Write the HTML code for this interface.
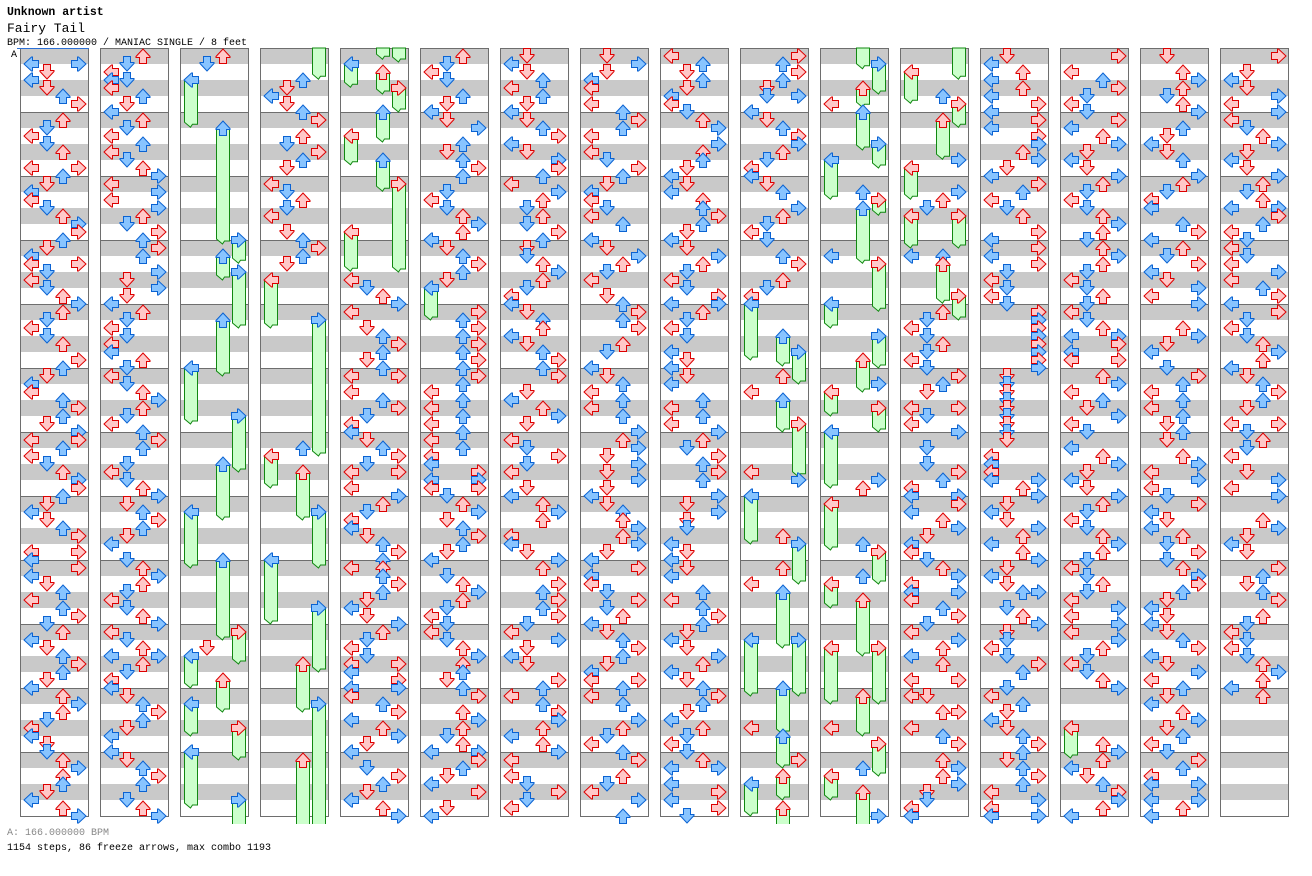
<!DOCTYPE html>
<html><head><meta charset="utf-8">
<style>
html,body{margin:0;padding:0;background:#fff;width:1312px;height:876px;overflow:hidden}
svg{display:block}
text{font-family:"Liberation Mono","DejaVu Sans Mono",monospace}
</style></head><body>
<svg id="s" width="1312" height="876" viewBox="0 0 1312 876" xmlns="http://www.w3.org/2000/svg">
<rect x="0" y="0" width="1312" height="876" fill="#fff"/>
<g id="g"></g>
<text x="7" y="15" font-size="11.5" font-weight="bold" fill="#000">Unknown artist</text>
<text x="7" y="32" font-size="13" fill="#000">Fairy Tail</text>
<text x="7" y="45" font-size="10" fill="#000">BPM: 166.000000 / MANIAC SINGLE / 8 feet</text>
<text x="11" y="57" font-size="10" fill="#000">A</text>
<text x="7" y="835" font-size="10" fill="#888">A: 166.000000 BPM</text>
<text x="7" y="850" font-size="10" fill="#000">1154 steps, 86 freeze arrows, max combo 1193</text>
</svg>
<script>
var N=[
"L2 R2 D3 L4 D5 U6 R7 U9 D10 L11 D12 U13 L15 R15 U16 D17 L18 L19 D20 U21 R22 R23 U24 D25 L26 L27 R27 D28 L29 D30 U31 R32 U33 D34 L35 D36 U37 R39 U40 D41 L42 L43 U44 R45 U46 D47 R48 L49 R49 U50 L51 D52 U53 R54 R55 U56 D57 L58 D59 U60 R61 L63 R63 L64 R65 L66 D67 U68 L69 U70 R71 D72 U73 L74 D75 U76 R77 U78 D79 L80 U81 R82 U83 D84 L85 L86 D87 D88 U89 R90 U91 U92 D93 L94 U95 R96",
"U1 D2 L3 L4 D4 L5 U6 D7 L8 U9 D10 L11 U12 L13 D14 U15 R16 L17 R18 L19 R20 U21 D22 R23 U24 R25 U26 R28 D29 R30 D31 L32 U33 D34 L35 D36 L37 L38 U39 D40 L41 D42 U43 R44 U45 D46 L47 U48 R49 U50 D52 L53 D54 U55 R56 D57 U58 R59 U60 D61 L62 D64 U65 R66 U67 D68 L69 D70 U71 R72 L73 D74 U75 L76 R76 U77 D78 L79 L80 D81 U82 R83 U84 D85 L86 L88 D89 U90 R91 U92 D94 U95 R96",
"U1 D2 D75",
"U4 D5 L6 D7 U8 R9 U11 D12 R13 U14 D15 L17 D18 U19 D20 L21 D23 U24 R25 U26 D27 U50",
"L29 D30 U31 R32 L33 D35 U36 R37 U38 D39 U40 L41 R41 L43 U44 R45 D46 L47 L48 D49 U50 R51 D52 L53 R53 L55 R56 U57 D58 L59 L60 D61 U62 R63 U64 L65 U65 U66 R67 U68 D69 L70 D71 R72 U73 D74 L75 D76 L77 R77 L78 R79 L80 R80 L81 U82 R83 L84 U85 R86 D87 L88 D90 R91 U92 D93 L94 U95 R96",
"U1 D2 L3 D4 U6 D7 L8 D9 R10 U12 D13 U14 R15 U16 D18 L19 D20 U21 R22 U23 L24 D25 U26 R27 U28 D29 R33 U34 R35 U36 R37 U38 R39 U40 R41 U42 L43 U44 L45 U46 L47 U48 L49 U50 L51 L52 R53 L54 R54 L55 R55 D56 U57 R58 D59 U60 R61 U62 D63 L64 D66 U67 R68 U69 D70 L71 D72 L73 D74 U75 R76 U77 U78 D79 U80 R81 U83 R84 U85 D86 U87 L88 R88 R89 U90 D91 L92 R93 D95 L96",
"D1 L2 D3 U4 L5 U6 D7 L8 D9 U10 R11 L12 D13 R14 R15 U16 L17 R18 U19 D20 U21 D22 R23 U24 D25 D26 U27 R28 U29 D30 L31 L32 D33 U34 U35 L36 D37 U38 R39 U40 R41 D43 L44 U45 R46 D47 L49 D50 R51 D52 L53 D55 L56 U57 R58 U59 L61 L62 D63 R64 U65 R67 U68 R69 U70 R71 D72 L73 R74 D75 L76 D77 R79 U80 L81 U82 R83 R84 U85 L86 U87 R88 L89 L91 D92 R93 D94 L95",
"D1 R2 D3 L4 L5 L7 U8 R9 U10 L11 L13 D14 R15 U16 D17 L18 L19 D20 L21 U22 L24 D25 R26 U27 D28 L29 D31 U32 R33 U34 R35 U37 D38 L40 D41 U42 L43 U44 L45 U46 R48 U49 R50 D51 R52 D53 R54 D55 L56 D57 U58 U59 R60 U61 R62 D63 L64 R65 L66 L67 D68 R69 D70 U71 L72 D73 U74 R75 U76 D77 L78 L79 R79 U80 L81 U82 R84 U85 D86 L87 U88 R89 U91 D92 L93 R94 U96",
"L1 U2 D3 U4 D5 L6 L7 D8 U9 R10 R12 U13 U14 D15 L16 D17 L18 U19 U20 R21 U22 D23 L24 D25 R26 U27 D28 L29 D30 R31 L32 R32 U33 D34 L35 D36 L38 D39 L40 D41 L42 U44 L45 U46 L47 R48 U49 D50 R51 U52 R53 U54 R56 D57 R58 D59 D60 L62 D63 L64 D65 L66 U68 L69 U70 R71 U72 D73 L74 D75 R76 U77 L78 D79 U80 R81 U82 D83 L84 U85 D86 L87 D88 U89 L90 R90 L92 R93 L94 R95 D96",
"R1 U2 R3 U4 D5 D6 R6 L8 D9 U10 R11 R12 U13 D14 L15 L16 D17 U18 R20 U21 D22 L23 D24 U26 R27 U29 D30 L31 U41 L43 L53 R54 U61 U65 L67 L85 R89",
"L7 U18 L26 R42 U55 R54 U62 U66 L85 U90 R96",
"U6 R14 R18 U19 D20 L26 U26 U33 D34 L35 D36 U37 D38 L39 D40 R41 U42 D43 L45 R45 D46 L47 R48 D50 D52 R53 U54 L55 L56 R56 R57 L58 U59 R60 D61 L62 L63 D64 U65 R66 L67 L68 R68 L69 U70 R71 D72 L73 R74 U75 L76 U77 L79 R79 L81 D81 U83 R83 L85 U86 R87 U89 R90 U91 R92 D93 D94 L95 L96",
"D1 L2 U3 L4 U5 L6 R7 L8 R9 L10 R11 R12 U13 R14 D15 L16 R17 U18 L19 D20 U21 R23 L24 R25 L26 R27 D28 L29 D30 L31 D32 R33 R34 R35 R36 R37 R38 R39 R40 D41 D42 D43 D44 D45 D46 D47 D48 D49 L51 L52 L53 L54 R54 U55 R56 D57 L58 D59 R60 U61 L62 U63 R64 D65 L66 D67 U68 R68 D70 U71 R72 D73 D74 L75 D76 R77 U78 D80 L81 U82 D83 L84 D85 U86 R87 U88 D89 U90 R91 U92 L93 R94 L95 R96 L96",
"R1 L3 U4 R5 D6 L7 D8 R9 L10 U11 R12 D13 L14 D15 R16 U17 D18 L19 D20 U21 R22 U23 D24 U25 R26 U27 D28 L29 D30 U31 D32 L33 D34 U35 L36 R36 R37 L38 L39 R39 U41 R42 L43 U44 D45 R46 L47 D48 L50 U51 R52 D53 L54 D55 R56 U57 D58 L59 D60 U61 R62 U63 D64 L65 D66 U67 D68 L69 R70 L71 R72 L73 R74 U75 D76 L77 D78 U79 R80 U87 R88 U89 L90 D91 U92 R93 R94 U95 L96",
"D1 U3 R4 U5 D6 U7 R8 U10 D11 L12 D13 U14 R16 U17 D18 L19 L20 U22 R23 L24 U25 D26 R27 L28 D29 R30 L31 R32 U35 R36 D37 L38 D40 R41 U42 L43 U44 L45 U46 D47 U48 D49 U51 R52 L53 R54 L55 D56 R57 L58 D59 L60 U61 D62 R63 D64 U65 R66 R67 U68 D69 L70 D71 L72 D73 U74 R75 L76 D77 R78 L79 U80 D81 L82 U83 R84 D85 U86 L87 D88 R89 U90 L91 L92 R92 L94 R94 U95 L96",
"R1 D3 L4 D5 R6 L7 R8 L9 D10 U11 R12 D13 L14 D15 R16 U17 D18 U19 L20 R20 R21 U22 L23 D24 L25 D26 L27 R28 L29 U30 R31 L32 R33 D34 L35 D36 U37 R38 U39 L40 D41 U42 R43 U44 D45 L47 R47 D48 U49 D50 L51 D53 R54 L55 R56 U59 R60 D61 L62 D63 R65 U66 D67 U68 R69 U71 D72 L73 D74 L75 D76 U77 R78 U79 L80 U81"
];
var F=[
"","",
"L:4:9.9 U:10:24.5 R:24:26.9 U:26:29 R:28:35 U:34:41 L:40:47 R:46:53 U:52:59 L:58:65 U:64:74 R:73:77 L:76:80 U:79:83 L:82:86 R:85:89 L:88:95 R:94:97",
"R:n:3.9 L:29:35 R:34:51 L:51:55 U:53:59 R:58:65 L:64:72 R:70:78 U:77:83 R:82:97 U:89:97",
"U:n:1.4 R:n:1.75 L:2:4.9 U:3:5.75 R:5:8 U:8:11.75 L:11:14.6 U:14:17.9 R:17:28 L:23:27.9",
"L:30:34",
"","","",
"L:32:39 U:36:39.75 R:38:42 U:44:48 R:47:53.6 L:56:62 R:62:67 U:68:75 L:74:81 R:74:81 U:80:85.75 U:86:90 L:92:96 U:91:94 U:95:97",
"U:n:2.6 R:2:5.75 U:5:7.4 U:8:12.75 R:12:15 L:14:18.9 R:19:20.9 U:20:26.9 R:27:32.9 L:32:35 R:36:40 U:39:43 L:43:46 R:45:48 L:48:55 L:57:62.75 R:63:67 L:67:70 U:69:76 L:75:82 R:75:82 U:81:86 R:87:91 L:91:94 U:93:97",
"R:n:3.9 L:3:6.9 R:7:9.9 U:9:13.9 L:15:18.9 L:21:25 R:21:25 U:27:31.9 R:31:34",
"",
"L:85:88.75",
"",""
];
var P={
L:"M15.5 4.5V11.5H9.5V15H8.5L1 8L8.5 1H9.5V4.5Z",
R:"M0.5 4.5V11.5H6.5V15H7.5L15 8L7.5 1H6.5V4.5Z",
U:"M4.5 15.5H11.5V9.5H15V8.5L8 1L1 8.5V9.5H4.5Z",
D:"M4.5 0.5H11.5V6.5H15V7.5L8 15L1 7.5V6.5H4.5Z"};
var LN={L:0,D:1,U:2,R:3};
function arrow(x0,t,idx){
  var lx=x0+3+16*LN[t], y=48+8*idx-8, b=(idx%2===0);
  return '<path transform="translate('+lx+','+y+')" d="'+P[t]+'" fill="'+(b?'#88c4ff':'#ffc8c8')+'" stroke="'+(b?'#0a62d2':'#dd0000')+'" stroke-width="1"/>';
}
function freeze(x0,t,h,tl){
  var lx=x0+3+16*LN[t], a=lx+1.5, b=lx+14.5;
  var yh=(h==='n')?48:48+8*h;
  if(tl>=97){
    var yb=824;
    return '<rect x="'+a+'" y="'+yh+'" width="13" height="'+(yb-yh)+'" fill="#ccffcc"/><path d="M'+a+' '+yh+'V'+yb+'M'+b+' '+yh+'V'+yb+'" stroke="#118811" fill="none"/>';
  }
  var yt=48+8*tl;
  return '<path d="M'+a+' '+yh+'H'+b+'V'+(yt-3)+'H'+(lx+9.5)+'L'+(lx+7.5)+' '+yt+'L'+a+' '+(yt-5)+'Z" fill="#ccffcc" stroke="#118811" stroke-width="1"/>';
}
var out=[],c,m,i;
for(c=0;c<16;c++){
  var x0=20+80*c;
  out.push('<rect x="'+x0+'" y="48" width="68" height="768" fill="#fff"/>');
  for(m=0;m<12;m++){
    var y=48+64*m;
    out.push('<rect x="'+x0+'" y="'+y+'" width="68" height="16" fill="#c9c9c9"/>');
    out.push('<rect x="'+x0+'" y="'+(y+32)+'" width="68" height="16" fill="#c9c9c9"/>');
  }
  for(m=1;m<12;m++){
    var yl=48.5+64*m;
    out.push('<line x1="'+x0+'" x2="'+(x0+68)+'" y1="'+yl+'" y2="'+yl+'" stroke="#6e6e6e" stroke-width="1"/>');
  }
  out.push('<rect x="'+(x0+0.5)+'" y="48.5" width="68" height="768" fill="none" stroke="#6e6e6e" stroke-width="1"/>');
}
out.push('<line x1="17" x2="89" y1="48.5" y2="48.5" stroke="#2a6fd6" stroke-width="1"/>');
for(c=0;c<16;c++){
  var x0=20+80*c;
  var fs=F[c]?F[c].split(' '):[];
  var heads=[];
  for(i=0;i<fs.length;i++){
    var p=fs[i].split(':');
    var h=p[1]==='n'?'n':parseInt(p[1],10);
    out.push(freeze(x0,p[0],h,parseFloat(p[2])));
    if(h!=='n') heads.push([p[0],h]);
  }
  var ns=N[c]?N[c].split(' '):[];
  for(i=0;i<ns.length;i++){
    var t=ns[i].charAt(0), idx=parseInt(ns[i].slice(1),10);
    out.push(arrow(x0,t,idx));
  }
  for(i=0;i<heads.length;i++) out.push(arrow(x0,heads[i][0],heads[i][1]));
}
document.getElementById('g').innerHTML=out.join('');
</script>
</body></html>
